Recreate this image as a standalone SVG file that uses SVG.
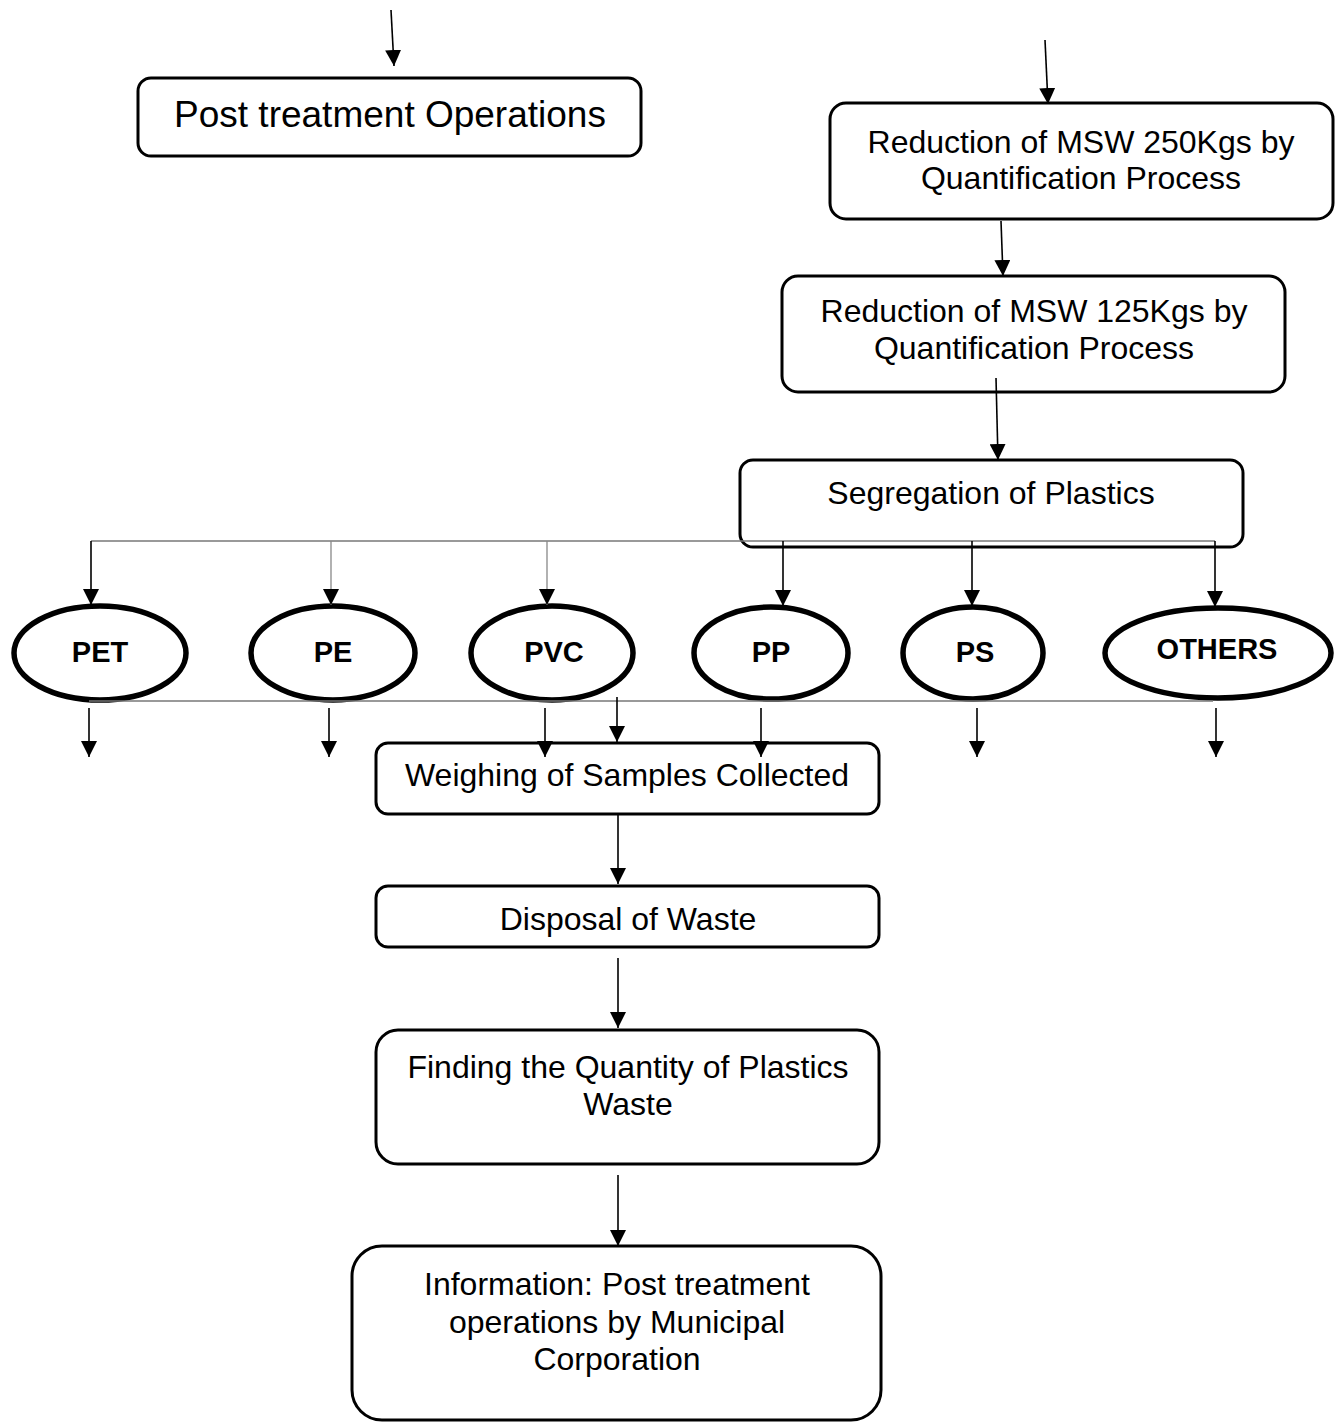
<svg xmlns="http://www.w3.org/2000/svg" width="1343" height="1422" viewBox="0 0 1343 1422">
<defs>
<marker id="ah" viewBox="0 0 16 16" refX="16" refY="8" markerWidth="16" markerHeight="16" markerUnits="userSpaceOnUse" orient="auto">
<path d="M0,0 L16,8 L0,16 z" fill="#000"/>
</marker>
</defs>
<style>
.box{fill:#fff;stroke:#000;stroke-width:3}
.ell{fill:#fff;stroke:#000;stroke-width:5.5}
.t{font-family:"Liberation Sans",Arial,sans-serif;font-size:32px;fill:#000;text-anchor:middle}
.b{font-family:"Liberation Sans",Arial,sans-serif;font-size:29px;font-weight:bold;fill:#000;text-anchor:middle}
.c{stroke:#000;stroke-width:1.6;fill:none}
.a{stroke:#000;stroke-width:1.6;fill:none;marker-end:url(#ah)}
.g{stroke:#777;stroke-width:1.3;fill:none}
.ga{stroke:#888;stroke-width:1.3;fill:none;marker-end:url(#ah)}
</style>
<rect width="1343" height="1422" fill="#fff"/>

<g id="n-post">
<rect class="box" x="138" y="78" width="503" height="78" rx="13"/>
<text class="t" x="390" y="127" style="font-size:37px">Post treatment Operations</text>
</g>
<g id="n-red250">
<rect class="box" x="830" y="103" width="503" height="116" rx="16"/>
<text class="t" x="1081" y="153">Reduction of MSW 250Kgs by</text>
<text class="t" x="1081" y="189">Quantification Process</text>
</g>
<g id="n-red125">
<rect class="box" x="782" y="276" width="503" height="116" rx="16"/>
<text class="t" x="1034" y="322">Reduction of MSW 125Kgs by</text>
<text class="t" x="1034" y="359">Quantification Process</text>
</g>
<g id="n-seg">
<rect class="box" x="740" y="460" width="503" height="87" rx="13"/>
<text class="t" x="991" y="504">Segregation of Plastics</text>
</g>
<g id="n-pet">
<ellipse class="ell" cx="100" cy="653" rx="86" ry="47"/>
<text class="b" x="100" y="662">PET</text>
</g>
<g id="n-pe">
<ellipse class="ell" cx="333" cy="653" rx="82" ry="47"/>
<text class="b" x="333" y="662">PE</text>
</g>
<g id="n-pvc">
<ellipse class="ell" cx="552" cy="653" rx="81" ry="47"/>
<text class="b" x="554" y="662">PVC</text>
</g>
<g id="n-pp">
<ellipse class="ell" cx="771" cy="653" rx="77" ry="46"/>
<text class="b" x="771" y="662">PP</text>
</g>
<g id="n-ps">
<ellipse class="ell" cx="973" cy="653" rx="70" ry="46"/>
<text class="b" x="975" y="662">PS</text>
</g>
<g id="n-others">
<ellipse class="ell" cx="1218" cy="653" rx="113" ry="45"/>
<text class="b" x="1217" y="659">OTHERS</text>
</g>
<g id="n-weigh">
<rect class="box" x="376" y="743" width="503" height="71" rx="12"/>
<text class="t" x="627" y="786">Weighing of Samples Collected</text>
</g>
<g id="n-disposal">
<rect class="box" x="376" y="886" width="503" height="61" rx="12"/>
<text class="t" x="628" y="930">Disposal of Waste</text>
</g>
<g id="n-finding">
<rect class="box" x="376" y="1030" width="503" height="134" rx="22"/>
<text class="t" x="628" y="1078">Finding the Quantity of Plastics</text>
<text class="t" x="628" y="1115">Waste</text>
</g>
<g id="n-info">
<rect class="box" x="352" y="1246" width="529" height="174" rx="30"/>
<text class="t" x="617" y="1295">Information: Post treatment</text>
<text class="t" x="617" y="1333">operations by Municipal</text>
<text class="t" x="617" y="1370">Corporation</text>
</g>

<g id="connectors">
<line class="a" x1="391" y1="10" x2="394" y2="66"/>
<line class="a" x1="1045" y1="40" x2="1048" y2="104"/>
<line class="a" x1="1001" y1="221" x2="1003" y2="276"/>
<line class="a" x1="996" y1="378" x2="998" y2="460"/>

<line class="g" x1="91" y1="541" x2="1215" y2="541"/>
<line class="a" x1="91" y1="541" x2="91" y2="605"/>
<line class="ga" x1="331" y1="541" x2="331" y2="605"/>
<line class="ga" x1="547" y1="541" x2="547" y2="605"/>
<line class="a" x1="783" y1="541" x2="783" y2="606"/>
<line class="a" x1="972" y1="541" x2="972" y2="606"/>
<line class="a" x1="1215" y1="541" x2="1215" y2="607"/>

<line class="g" x1="89" y1="701" x2="1213" y2="701"/>
<line class="a" x1="89" y1="708" x2="89" y2="757"/>
<line class="a" x1="329" y1="708" x2="329" y2="757"/>
<line class="a" x1="545" y1="708" x2="545" y2="757"/>
<line class="a" x1="617" y1="697" x2="617" y2="742"/>
<line class="a" x1="761" y1="708" x2="761" y2="757"/>
<line class="a" x1="977" y1="708" x2="977" y2="757"/>
<line class="a" x1="1216" y1="708" x2="1216" y2="757"/>

<line class="a" x1="618" y1="814" x2="618" y2="884"/>
<line class="a" x1="618" y1="958" x2="618" y2="1028"/>
<line class="a" x1="618" y1="1175" x2="618" y2="1246"/>
</g>
</svg>
